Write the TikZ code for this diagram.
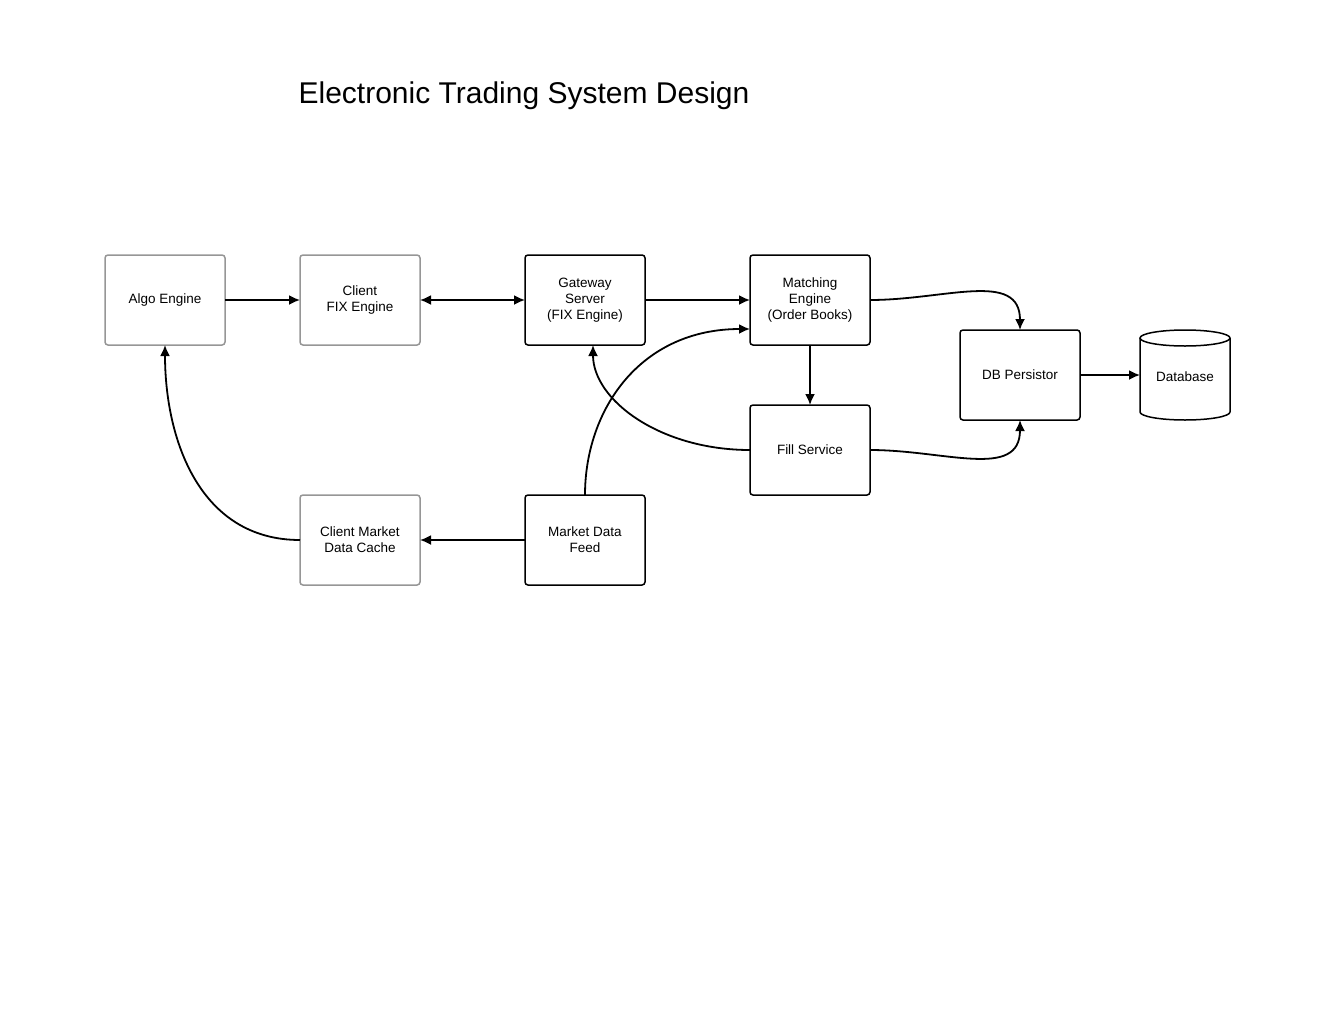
\documentclass[tikz,border=0pt]{standalone}
\usepackage{fontspec}
\setmainfont{Liberation Sans}
\usetikzlibrary{arrows.meta}
\definecolor{graybd}{RGB}{150,150,150}
\tikzset{
  box/.style={draw=black, line width=1.5pt, rounded corners=3pt, minimum width=120pt, minimum height=90pt,
    align=center, font=\fontsize{13.5}{16}\selectfont, inner sep=2pt, outer sep=0pt},
  gbox/.style={box, draw=graybd},
  tip/.style={Latex[length=11pt,width=10pt]},
  conn/.style={line width=1.8pt, -{Latex[length=11pt,width=10pt]}},
  biconn/.style={line width=1.8pt, {Latex[length=11pt,width=10pt]}-{Latex[length=11pt,width=10pt]}},
  dbline/.style={draw=black, line width=1.5pt},
  dbtext/.style={minimum width=90pt, minimum height=90pt, inner sep=0pt, outer sep=0pt, font=\fontsize{13.5}{16}\selectfont}
}
\begin{document}
\begin{tikzpicture}[x=1pt,y=-1pt]
\useasboundingbox (0,0) rectangle (1320,1020);
\node[font=\fontsize{30}{36}\selectfont] (title) at (524,96) {Electronic Trading System Design};
\node[gbox] (algo) at (165,300) {Algo Engine};
\node[gbox] (cfix) at (360,300) {Client\\FIX Engine};
\node[box] (gw) at (585,300) {Gateway\\Server\\(FIX Engine)};
\node[box] (me) at (810,300) {Matching\\Engine\\(Order Books)};
\node[box] (dbp) at (1020,375) {DB Persistor};
\node[dbtext] (db) at (1185,377) {Database};
\draw[dbline] (1140,338) -- (1140,412) arc[start angle=180,end angle=360,x radius=45pt,y radius=8pt] -- (1230,338);
\draw[dbline] (1185,338) ellipse [x radius=45pt, y radius=8pt];
\node[box] (fill) at (810,450) {Fill Service};
\node[gbox] (cache) at (360,540) {Client Market\\Data Cache};
\node[box] (feed) at (585,540) {Market Data\\Feed};

\draw[conn] (algo) -- (cfix);
\draw[biconn] (cfix) -- (gw);
\draw[conn] (gw) -- (me);
\draw[conn] (me) -- (fill);
\draw[conn] (dbp.east) -- (db.west |- dbp.east);
\draw[conn] (feed) -- (cache);
\draw[conn] (me.east) .. controls +(75,0) and +(0,-60) .. (dbp.north);
\draw[conn] (fill.east) .. controls +(75,0) and +(0,60) .. (dbp.south);
\draw[conn] (fill.west) .. controls +(-90,0) and +(0,55) .. ([xshift=8pt]gw.south);
\draw[conn] (feed.north) .. controls +(0,-85) and +(-110,0) .. ([yshift=-29pt]me.west);
\draw[conn] (cache.west) .. controls +(-100,0) and +(0,95) .. (algo.south);
\end{tikzpicture}
\end{document}
